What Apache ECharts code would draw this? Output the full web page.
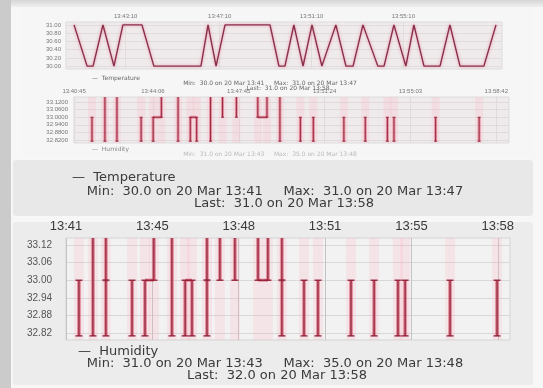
<!DOCTYPE html>
<html><head><meta charset="utf-8">
<script src="https://cdn.jsdelivr.net/npm/echarts@6/dist/echarts.min.js"></script>
<style>
html,body{margin:0;padding:0;background:#f7f7f7;overflow:hidden;}
.p{position:absolute;}
#c{position:absolute;left:0;top:0;width:543px;height:388px;}
</style>
</head><body>
<div class="p" style="left:0;top:0;width:11px;height:388px;background:#cbcbcb"></div>
<div class="p" style="left:11px;top:0;width:532px;height:7px;background:linear-gradient(#d6d6d6,#efefef)"></div>
<div class="p" style="left:22px;top:7px;width:512px;height:150px;background:#f6f6f6"></div>
<div class="p" style="left:13px;top:160px;width:520px;height:56px;background:#e8e8e8;border-radius:3px"></div>
<div class="p" style="left:13px;top:222px;width:520px;height:163px;background:#ececec;border-radius:3px"></div>
<div id="c"></div>
<script>
// ---- Temperature (top mini chart) ----
const tempTimes  = [0.85,1.42,1.68,2.11,2.59,2.98,3.81,4.33,6.38,6.69,7.04,7.43,9.39,9.78,10.04,10.43,10.83,11.22,11.65,12.26,12.70,13.01,13.44,14.09,14.36,14.79,15.31,15.66,16.10,16.80,17.23,17.67,18.71,19.24];
const tempValues = [31,30,30,31,30,31,31,30,30,31,30,31,31,30,30,31,30,31,30,31,30,30,31,30,30,31,30,31,30,30,31,30,30,31];
const tempXTicks  = [3.1, 7.2, 11.2, 15.2];
const tempXLabels = ['13:43:10','13:47:10','13:51:10','13:55:10'];
const tempYTicks  = [30.0, 30.2, 30.4, 30.6, 30.8, 31.0];

// ---- Humidity events (mini chart + main chart) ----
const humTimes = [1.51,2.06,2.57,3.60,4.11,4.46,5.17,5.69,5.96,6.55,7.06,7.65,8.56,8.95,9.50,10.37,10.92,12.22,13.13,14.07,14.35,16.12,17.97];
const humLow   = [32.81,32.81,32.81,32.81,32.81,33.00,32.81,32.81,32.81,32.81,33.00,33.00,33.00,33.00,32.81,32.81,32.81,32.81,32.81,32.81,32.81,32.81,32.81];
const humHigh  = [33.00,35.00,35.00,33.00,33.00,35.00,35.00,33.00,33.00,35.00,35.00,35.00,35.00,35.00,35.00,33.00,33.00,33.00,33.00,33.00,33.00,33.00,33.00];
const humMarkTimes = [2.57, 6.55, 9.50];
const humMarkValue = 33.00;
const humLinkStart = [4.11, 5.69, 8.56];
const humLinkEnd   = [4.46, 5.96, 8.95];
const humLinkValue = 33.00;
const humYTicks = [32.82, 32.88, 32.94, 33.00, 33.06, 33.12];
const mainXTicks  = [1, 4.4, 7.8, 11.2, 14.6, 18.0];
const mainXLabels = ['13:41','13:45','13:48','13:51','13:55','13:58'];
const miniXTicks  = [0.75, 4.1, 7.75, 11.4, 15.05, 18.7];
const miniXLabels = ['13:40:45','13:44:06','13:47:45','13:51:24','13:55:03','13:58:42'];

const FONT = 'Liberation Sans';
const LFONT = 'DejaVu Sans';
function labelFrom(ticks, labels){
  return v => { for (let i=0;i<ticks.length;i++) if (Math.abs(ticks[i]-v)<1e-6) return labels[i]; return ''; };
}
const spikeData = humTimes.map((t,i)=>[t, humLow[i], humHigh[i]]);
const linkData = humLinkStart.map((t,i)=>[t, humLinkEnd[i], humLinkValue]);
const markData = humMarkTimes.map(t=>[t, humMarkValue]);

function spikeRenderer(capHalf, glowHalf, bandHalf, lw){
  return function(params, api){
    const cs = params.coordSys;
    const top = cs.y, bot = cs.y + cs.height;
    const clamp = v => Math.max(top, Math.min(bot, v));
    const pLo = api.coord([api.value(0), api.value(1)]);
    const pHi = api.coord([api.value(0), api.value(2)]);
    const x = pLo[0];
    const yLo = clamp(pLo[1]), yHi = clamp(pHi[1]);
    const ch = [
      {type:'rect', shape:{x:x-bandHalf, y:top, width:bandHalf*2, height:cs.height}, style:{fill:'rgba(255,175,190,0.2)'}},
      {type:'rect', shape:{x:x-glowHalf, y:yHi, width:glowHalf*2, height:yLo-yHi}, style:{fill:'rgba(214,72,100,0.5)'}},
      {type:'line', shape:{x1:x, y1:yHi, x2:x, y2:yLo}, style:{stroke:'#8f1c33', lineWidth:lw}}
    ];
    if (pLo[1] >= top && pLo[1] <= bot) ch.push({type:'line', shape:{x1:x-capHalf,y1:yLo,x2:x+capHalf,y2:yLo}, style:{stroke:'#8f1c33', lineWidth:lw}});
    if (pHi[1] >= top && pHi[1] <= bot) ch.push({type:'line', shape:{x1:x-capHalf,y1:yHi,x2:x+capHalf,y2:yHi}, style:{stroke:'#8f1c33', lineWidth:lw}});
    return {type:'group', children: ch};
  };
}
function linkRenderer(lw){
  return function(params, api){
    const a = api.coord([api.value(0), api.value(2)]);
    const b = api.coord([api.value(1), api.value(2)]);
    return {type:'group', children:[
      {type:'line', shape:{x1:a[0],y1:a[1],x2:b[0],y2:b[1]}, style:{stroke:'rgba(214,72,100,0.5)', lineWidth:lw+2}},
      {type:'line', shape:{x1:a[0],y1:a[1],x2:b[0],y2:b[1]}, style:{stroke:'#8f1c33', lineWidth:lw}}
    ]};
  };
}

const chart = echarts.init(document.getElementById('c'), null, {renderer:'canvas'});
const txt = (text, x, y, size, color, align, fam) => ({type:'text', x, y, style:{text, font: size+'px '+(fam||LFONT), fill: color, textAlign: align||'center', textVerticalAlign:'middle'}});

chart.setOption({
  backgroundColor: 'transparent',
  animation: false,
  grid: [
    {left:66, right:41, top:22, height:47, show:true, backgroundColor:'#efeaeb', borderColor:'#dcdcdc', borderWidth:1},
    {left:74, right:34, top:97, height:46, show:true, backgroundColor:'#efeaeb', borderColor:'#dcdcdc', borderWidth:1},
    {left:66, right:33, top:238, height:102, show:true, backgroundColor:'#f2f2f2', borderColor:'#d4d4d4', borderWidth:1}
  ],
  xAxis: [
    {gridIndex:0, type:'value', position:'top', min:0.5, max:19.5,
     axisLine:{show:false}, axisTick:{show:false, customValues:tempXTicks},
     axisLabel:{customValues:tempXTicks, formatter:labelFrom(tempXTicks,tempXLabels), fontSize:6, color:'#777', margin:3, fontFamily:FONT},
     splitLine:{show:true, lineStyle:{color:'#e2dcdc'}}},
    {gridIndex:1, type:'value', position:'top', min:0.745, max:19.24,
     axisLine:{show:false}, axisTick:{show:false, customValues:miniXTicks},
     axisLabel:{customValues:miniXTicks, formatter:labelFrom(miniXTicks,miniXLabels), fontSize:6, color:'#777', margin:3, fontFamily:FONT},
     splitLine:{show:true, lineStyle:{color:'#e0dada'}}},
    {gridIndex:2, type:'value', position:'top', min:1, max:18.48,
     axisLine:{show:false}, axisTick:{show:false, customValues:mainXTicks},
     axisLabel:{customValues:mainXTicks, formatter:labelFrom(mainXTicks,mainXLabels), fontSize:13, color:'#3a3a3a', margin:5, fontFamily:FONT},
     splitLine:{show:true, lineStyle:{color:'#c4c4c4'}}}
  ],
  yAxis: [
    {gridIndex:0, type:'value', min:29.93, max:31.07,
     axisLine:{show:false}, axisTick:{show:false, customValues:tempYTicks},
     axisLabel:{customValues:tempYTicks, formatter:v=>v.toFixed(2), fontSize:6, color:'#777', margin:5, fontFamily:FONT},
     splitLine:{show:true, lineStyle:{color:'#e2dcdc'}}},
    {gridIndex:1, type:'value', min:32.796, max:33.16,
     axisLine:{show:false}, axisTick:{show:false, customValues:humYTicks},
     axisLabel:{customValues:humYTicks, formatter:v=>v.toFixed(4), fontSize:6, color:'#777', margin:6, fontFamily:FONT},
     splitLine:{show:true, lineStyle:{color:'#e0dada'}}},
    {gridIndex:2, type:'value', min:32.796, max:33.144,
     axisLine:{show:false}, axisTick:{show:false, customValues:humYTicks},
     axisLabel:{customValues:humYTicks, formatter:v=>v.toFixed(2), fontSize:10, color:'#555', margin:14, fontFamily:FONT},
     splitLine:{show:true, lineStyle:{color:'#d8d8d8'}}}
  ],
  series: [
    {type:'line', xAxisIndex:0, yAxisIndex:0, data: tempTimes.map((t,i)=>[t,tempValues[i]]), showSymbol:false,
     lineStyle:{color:'#8a2f4c', width:1.4, shadowColor:'rgba(230,100,130,0.7)', shadowBlur:3}},
    {type:'custom', xAxisIndex:1, yAxisIndex:1, data: spikeData, renderItem: spikeRenderer(1.5, 1.5, 4, 0.9), encode:{x:0, y:[1,2]}},
    {type:'custom', xAxisIndex:1, yAxisIndex:1, data: linkData, renderItem: linkRenderer(0.9), encode:{x:[0,1], y:2}},
    {type:'custom', xAxisIndex:2, yAxisIndex:2, data: spikeData, renderItem: spikeRenderer(3.5, 2, 5, 1.3), encode:{x:0, y:[1,2]}},
    {type:'custom', xAxisIndex:2, yAxisIndex:2, data: linkData, renderItem: linkRenderer(1.3), encode:{x:[0,1], y:2}},
    {type:'scatter', xAxisIndex:2, yAxisIndex:2, data: markData, symbol:'rect', symbolSize:[7,2], itemStyle:{color:'#8f1c33'}}
  ],
  graphic: [
    txt('—  Temperature', 92, 78, 6, '#666', 'left'),
    txt('Min:  30.0 on 20 Mar 13:41     Max:  31.0 on 20 Mar 13:47', 270, 83, 6, '#666'),
    txt('Last:  31.0 on 20 Mar 13:58', 288, 88, 6, '#666'),
    txt('—  Humidity', 92, 149, 6, '#888', 'left'),
    txt('Min:  31.0 on 20 Mar 13:43     Max:  35.0 on 20 Mar 13:48', 270, 154, 6, '#bbb'),
    txt('—  Temperature', 72, 178, 13, '#3a3a3a', 'left'),
    txt('Min:  30.0 on 20 Mar 13:41     Max:  31.0 on 20 Mar 13:47', 275, 192, 13, '#3a3a3a'),
    txt('Last:  31.0 on 20 Mar 13:58', 284, 204, 13, '#3a3a3a'),
    txt('—  Humidity', 78, 352, 13, '#3a3a3a', 'left'),
    txt('Min:  31.0 on 20 Mar 13:43     Max:  35.0 on 20 Mar 13:48', 275, 364, 13, '#3a3a3a'),
    txt('Last:  32.0 on 20 Mar 13:58', 277, 376, 13, '#3a3a3a')
  ]
});
</script>
</body></html>
